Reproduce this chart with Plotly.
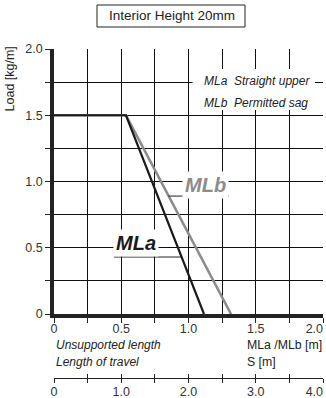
import plotly.graph_objects as go

# Data
mla_x = [0, 0.535, 1.115]
mla_y = [1.5, 1.5, 0]
mlb_x = [0, 0.535, 1.316]
mlb_y = [1.5, 1.5, 0]

NB = "\u00a0"
x_ticks = [0, 0.25, 0.5, 0.75, 1.0, 1.25, 1.5, 1.75, 2.0]
x_labels = ["0", "", "0.5", "", "1.0", "", "1.5", "", "2.0" + NB * 5]
y_ticks = [0, 0.25, 0.5, 0.75, 1.0, 1.25, 1.5, 1.75, 2.0]
y_labels = ["0", "", "0.5", "", "1.0", "", "1.5", "", "2.0"]
s_ticks = [0, 0.5, 1.0, 1.5, 2.0, 2.5, 3.0, 3.5, 4.0]
s_labels = ["0", "", "1.0", "", "2.0", "", "3.0", "", "4.0" + NB * 5]

FONT = "Liberation Sans, Arial, sans-serif"
W, H = 326, 398
ML, MR, MT, MB = 54, 3, 49, 14
plot_h = H - MT - MB
pw = W - ML - MR
y0_px = 314
s_px = 378
dom0 = (H - MB - y0_px) / plot_h
s_pos = (H - MB - s_px) / plot_h


def py(px):
    return (H - MB - px) / plot_h


def pxx(px):
    return (px - ML) / pw


fig = go.Figure()
fig.add_trace(go.Scatter(x=mlb_x, y=mlb_y, mode="lines",
                         line=dict(color="#8c8c8c", width=2.6),
                         showlegend=False, hoverinfo="skip"))
fig.add_trace(go.Scatter(x=mla_x, y=mla_y, mode="lines",
                         line=dict(color="#1a1a1a", width=2.2),
                         showlegend=False, hoverinfo="skip"))
# invisible traces to anchor the S axis
fig.add_trace(go.Scatter(x=[0, 4], y=[0, 0], xaxis="x2", yaxis="y", mode="lines",
                         line=dict(width=0), opacity=0, showlegend=False, hoverinfo="skip"))
fig.add_trace(go.Scatter(x=[0, 4], y=[0, 0], xaxis="x3", yaxis="y", mode="lines",
                         line=dict(width=0), opacity=0, showlegend=False, hoverinfo="skip"))

fig.update_layout(
    width=W, height=H,
    margin=dict(l=ML, r=MR, t=MT, b=MB, autoexpand=False),
    paper_bgcolor="white", plot_bgcolor="white",
    font=dict(family=FONT, size=12, color="#333"),
    xaxis=dict(range=[0, 2], tickvals=x_ticks, ticktext=x_labels,
               showgrid=True, gridcolor="#111", gridwidth=1,
               zeroline=False, showline=True, linecolor="#222", linewidth=4,
               ticks="outside", ticklen=5, tickcolor="#222", tickwidth=1,
               tickfont=dict(size=12.5, color="#333"), anchor="y",
               automargin=False, ticklabeloverflow="allow", ticklabelstandoff=-5),
    yaxis=dict(range=[0, 2], domain=[dom0, 1], tickvals=y_ticks, ticktext=y_labels,
               showgrid=True, gridcolor="#111", gridwidth=1,
               zeroline=False, showline=True, linecolor="#222", linewidth=3.5,
               ticks="outside", ticklen=5, tickcolor="#222", tickwidth=1,
               tickfont=dict(size=12.5, color="#333"), automargin=False,
               ticklabeloverflow="allow"),
    xaxis2=dict(range=[0, 4], overlaying="x", anchor="free", position=s_pos,
                tickvals=s_ticks, ticktext=s_labels, showgrid=False, zeroline=False,
                showline=True, linecolor="#222", linewidth=1.3,
                ticks="outside", ticklen=4, tickcolor="#222", tickwidth=1,
                tickfont=dict(size=12.5, color="#333"), automargin=False,
                ticklabeloverflow="allow", ticklabelstandoff=-2),
    xaxis3=dict(range=[0, 4], overlaying="x", anchor="free", position=s_pos,
                tickvals=s_ticks, showticklabels=False, showgrid=False, zeroline=False,
                showline=False, ticks="inside", ticklen=4, tickcolor="#222", tickwidth=1,
                automargin=False),
)

# Title box
fig.add_shape(type="rect", xref="paper", yref="paper",
              x0=pxx(97), x1=pxx(245), y0=py(27), y1=py(5),
              line=dict(color="#222", width=1), fillcolor="white")
fig.add_annotation(text="Interior Height 20mm", xref="paper", yref="paper",
                   x=pxx(172), y=py(16), xanchor="center", yanchor="middle",
                   showarrow=False, font=dict(size=13.5, color="#222"))

# Y title
fig.add_annotation(text="Load [kg/m]", xref="paper", yref="y",
                   x=pxx(10), y=1.77, textangle=-90, xanchor="center", yanchor="middle",
                   showarrow=False, font=dict(size=12.5, color="#222"))

# Legend-like text box
fig.add_shape(type="rect", xref="x", yref="y", x0=1.03, x1=1.94, y0=1.54, y1=1.85,
              line=dict(width=0), fillcolor="white", layer="between")
fig.add_annotation(text="<i>MLa  Straight upper</i>", xref="x", yref="y",
                   x=1.1, y=1.76, xanchor="left", yanchor="middle", showarrow=False,
                   font=dict(size=12, color="#222"))
fig.add_annotation(text="<i>MLb  Permitted sag</i>", xref="x", yref="y",
                   x=1.1, y=1.595, xanchor="left", yanchor="middle", showarrow=False,
                   font=dict(size=12, color="#222"))

# Curve labels
fig.add_annotation(text="<b><i>MLb</i></b>", xref="x", yref="y", x=1.125, y=0.975,
                   xanchor="center", yanchor="middle",
                   showarrow=False, bgcolor="white", borderpad=2,
                   font=dict(size=20, color="#8c8c8c"))
fig.add_shape(type="line", xref="x", yref="y", x0=0.85, x1=1.30, y0=0.89, y1=0.89,
              line=dict(color="#222", width=1))
fig.add_annotation(text="<b><i>MLa</i></b>", xref="x", yref="y", x=0.61, y=0.535,
                   xanchor="center", yanchor="middle",
                   showarrow=False, bgcolor="white", borderpad=2,
                   font=dict(size=20, color="#1a1a1a"))
fig.add_shape(type="line", xref="x", yref="y", x0=0.445, x1=0.95, y0=0.43, y1=0.43,
              line=dict(color="#222", width=1))

# Axis captions
fig.add_annotation(text="<i>Unsupported length</i>", xref="paper", yref="paper",
                   x=0, y=py(345), xanchor="left", yanchor="middle", showarrow=False,
                   font=dict(size=12, color="#222"))
fig.add_annotation(text="<i>Length of travel</i>", xref="paper", yref="paper",
                   x=0, y=py(362), xanchor="left", yanchor="middle", showarrow=False,
                   font=dict(size=12, color="#222"))
fig.add_annotation(text="MLa /MLb [m]", xref="paper", yref="paper",
                   x=pxx(245), y=py(345), xanchor="left", yanchor="middle", showarrow=False,
                   font=dict(size=12.3, color="#222"))
fig.add_annotation(text="S [m]", xref="paper", yref="paper",
                   x=pxx(245), y=py(362), xanchor="left", yanchor="middle", showarrow=False,
                   font=dict(size=12.3, color="#222"))

fig.write_html("out.html")
